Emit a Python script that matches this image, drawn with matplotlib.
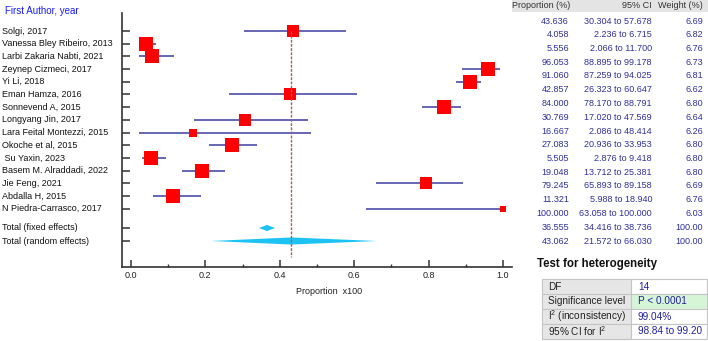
import matplotlib.pyplot as plt
import matplotlib.transforms as mtransforms
from matplotlib.patches import Polygon, Rectangle

plt.rcParams['font.family'] = ['Liberation Sans', 'DejaVu Sans']
plt.rcParams['mathtext.fontset'] = 'custom'
plt.rcParams['mathtext.rm'] = 'Liberation Sans'
plt.rcParams['mathtext.default'] = 'regular'

# study data (%)
studies = ['Solgi, 2017', 'Vanessa Bley Ribeiro, 2013', 'Larbi Zakaria Nabti, 2021',
           'Zeynep Cizmeci, 2017', 'Yi Li, 2018', 'Eman Hamza, 2016', 'Sonnevend A, 2015',
           'Longyang Jin, 2017', 'Lara Feital Montezzi, 2015', 'Okoche et al, 2015',
           ' Su Yaxin, 2023', 'Basem M. Alraddadi, 2022', 'Jie Feng, 2021',
           'Abdalla H, 2015', 'N Piedra-Carrasco, 2017']
prop = [43.636, 4.058, 5.556, 96.053, 91.060, 42.857, 84.000, 30.769, 16.667,
        27.083, 5.505, 19.048, 79.245, 11.321, 100.000]
ci_lo = [30.304, 2.236, 2.066, 88.895, 87.259, 26.323, 78.170, 17.020, 2.086,
         20.936, 2.876, 13.712, 65.893, 5.988, 63.058]
ci_hi = [57.678, 6.715, 11.700, 99.178, 94.025, 60.647, 88.791, 47.569, 48.414,
         33.953, 9.418, 25.381, 89.158, 18.940, 100.000]
weight = [6.69, 6.82, 6.76, 6.73, 6.81, 6.62, 6.80, 6.64, 6.26, 6.80, 6.80, 6.80,
          6.69, 6.76, 6.03]

total_labels = ['Total (fixed effects)', 'Total (random effects)']
total_prop = [36.555, 43.062]
total_lo = [34.416, 21.572]
total_hi = [38.736, 66.030]
total_weight = [100.00, 100.00]

het_labels = ['DF', 'Significance level', 'I$^{2}$ (inconsistency)', '95% CI for I$^{2}$']
het_values = ['14', 'P < 0.0001', '99.04%', '98.84 to 99.20']

W, H = 708, 341
fig = plt.figure(figsize=(W / 100, H / 100), dpi=100)


def fx(x):
    return x / W


def fy(y):
    return 1 - y / H


# plot area in pixels
L, R, T, B = 122, 512, 13, 267
ax = fig.add_axes([fx(L), fy(B), (R - L) / W, (B - T) / H])

row0, dy = 31, 12.7
ys = list(range(len(studies)))
y_tot = [(228 - row0) / dy, (241 - row0) / dy]
ax.set_ylim((B - row0) / dy, (T - row0) / dy)
ax.set_xlim(-0.024, 1.024)

line_col = '#3c3ca0'
for i in range(len(studies)):
    ax.plot([ci_lo[i] / 100, ci_hi[i] / 100], [ys[i], ys[i]], color=line_col, lw=1.1,
            solid_capstyle='butt', zorder=2)
for i in range(len(studies)):
    ms = (6 + (weight[i] - 6.03) * 10.1) * 0.72
    ax.plot(prop[i] / 100, ys[i], 's', color='#ff0000', ms=ms, mew=0, zorder=3)

# pooled diamonds
for k, h in zip(range(2), [0.24, 0.28]):
    yy = y_tot[k]
    ax.add_patch(Polygon([(total_lo[k] / 100, yy), (total_prop[k] / 100, yy - h),
                          (total_hi[k] / 100, yy), (total_prop[k] / 100, yy + h)],
                         closed=True, color='#1cc3f2', lw=0, zorder=3))

ax.plot([total_prop[1] / 100] * 2, [0, (257 - row0) / dy], color='#b05a5a', lw=1,
        dashes=(2, 1), zorder=4)

for s in ['top', 'right']:
    ax.spines[s].set_visible(False)
for s in ['left', 'bottom']:
    ax.spines[s].set_color('#333333')
    ax.spines[s].set_linewidth(1.2)

ax.set_yticks(ys + y_tot)
ax.set_yticklabels([])
ax.tick_params(axis='y', direction='in', length=5.8, width=1.1, color='#333333')
ax.set_xticks([0, 0.2, 0.4, 0.6, 0.8, 1.0])
ax.set_xticks([0.1, 0.3, 0.5, 0.7, 0.9], minor=True)
ax.set_xticklabels(['0.0', '0.2', '0.4', '0.6', '0.8', '1.0'])
ax.tick_params(axis='x', which='major', direction='in', length=5, width=1.1,
               color='#333333', labelsize=6.5, labelcolor='#222222', pad=3)
ax.tick_params(axis='x', which='minor', direction='in', length=2.2, width=1,
               color='#333333')

fig.text(fx(329), fy(292), 'Proportion  x100', fontsize=6.5, color='#222222',
         ha='center', va='center')

# row labels
trans = mtransforms.blended_transform_factory(fig.transFigure, ax.transData)
for i, name in enumerate(studies):
    ax.text(fx(2), ys[i], name, transform=trans, fontsize=6.5, color='#111111',
            ha='left', va='center', clip_on=False)
for k, name in enumerate(total_labels):
    ax.text(fx(2), y_tot[k], name, transform=trans, fontsize=6.5, color='#111111',
            ha='left', va='center', clip_on=False)
fig.text(fx(5), fy(11), 'First Author, year', fontsize=7, color='#1a1aff',
         ha='left', va='center')

# right-hand table
fig.patches.append(Rectangle((fx(512), fy(12)), (W - 512) / W, 12 / H,
                             transform=fig.transFigure, color='#e4e4e4', lw=0))
fig.text(fx(512), fy(6), 'Proportion (%)', fontsize=6.5, color='#333333', ha='left', va='center')
fig.text(fx(652), fy(6), '95% CI', fontsize=6.5, color='#333333', ha='right', va='center')
fig.text(fx(703), fy(6), 'Weight (%)', fontsize=6.5, color='#333333', ha='right', va='center')

num_col = '#30309a'
all_p = prop + total_prop
all_lo = ci_lo + total_lo
all_hi = ci_hi + total_hi
all_w = weight + total_weight
for i in range(len(all_p)):
    yy = fy(21 + 13.75 * i)
    fig.text(fx(569), yy, f'{all_p[i]:.3f}', fontsize=6.5, color=num_col, ha='right', va='center')
    fig.text(fx(652), yy, f'{all_lo[i]:.3f} to {all_hi[i]:.3f}', fontsize=6.5, color=num_col,
             ha='right', va='center')
    fig.text(fx(703), yy, f'{all_w[i]:.2f}', fontsize=6.5, color=num_col, ha='right', va='center')

# heterogeneity box
fig.text(fx(537), fy(264), 'Test for heterogeneity', fontsize=8.3, fontweight='bold',
         color='#111111', ha='left', va='center')
x0, x1, x2 = 542, 631, 707
top, rh = 279, 15
for j in range(len(het_labels)):
    y_top = top + j * rh
    fig.patches.append(Rectangle((fx(x0), fy(y_top + rh)), (x1 - x0) / W, rh / H,
                                 transform=fig.transFigure, facecolor='#e6e6e6',
                                 edgecolor='#c4c4c4', lw=0.8))
    fc = '#d6f5d6' if j == 1 else 'white'
    fig.patches.append(Rectangle((fx(x1), fy(y_top + rh)), (x2 - x1) / W, rh / H,
                                 transform=fig.transFigure, facecolor=fc,
                                 edgecolor='#c4c4c4', lw=0.8))
    fig.text(fx(548), fy(y_top + rh / 2), het_labels[j], fontsize=7.2, color='#222222',
             ha='left', va='center')
    fig.text(fx(638), fy(y_top + rh / 2), het_values[j], fontsize=7.2, color='#2020a0',
             ha='left', va='center')

fig.savefig('out.png', dpi=100)
